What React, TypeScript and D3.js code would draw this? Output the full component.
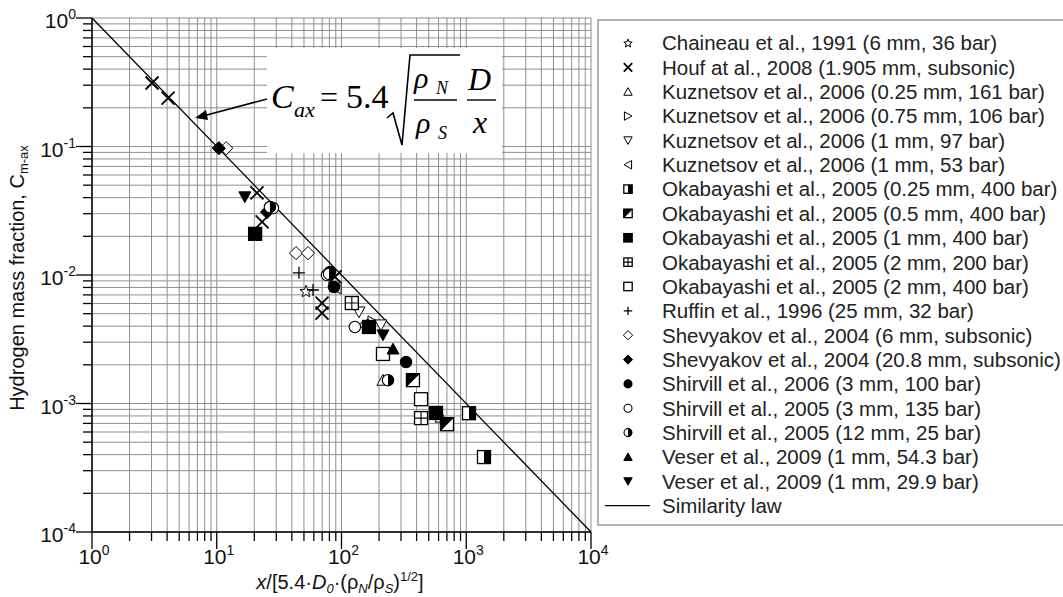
import { useEffect, useRef } from 'react';
import * as d3 from 'd3';

// series: [x, C] pairs
const chaineau: [number, number][] = [[51.9, 0.0075]];
const houf: [number, number][] = [
	[3.03, 0.312], [4.07, 0.238], [21.0, 0.0435], [23.1, 0.0259],
	[88.7, 0.00965], [69.8, 0.00605], [69.8, 0.00506],
];
const kuz025: [number, number][] = [[215, 0.00152], [628, 0.000785]];
const kuz075: [number, number][] = [[179, 0.00431]];
const kuz097: [number, number][] = [[138, 0.00515], [207, 0.00408]];
const kuz053: [number, number][] = [[149, 0.00408], [90.3, 0.00792]];
const oka025: [number, number][] = [[1052, 0.00084], [1387, 0.000383]];
const oka05: [number, number][] = [[374, 0.00152], [701, 0.00069]];
const oka1: [number, number][] = [[20.3, 0.0209], [166, 0.00394], [572, 0.000844]];
const oka2a: [number, number][] = [[121, 0.00605], [434, 0.00077]];
const oka2b: [number, number][] = [[215, 0.00243], [434, 0.00108]];
const ruffin: [number, number][] = [[45.6, 0.0104], [59.1, 0.00764]];
const shev6: [number, number][] = [[11.9, 0.097], [43.2, 0.0148], [53.9, 0.0148]];
const shev208: [number, number][] = [[10.4, 0.097], [25.3, 0.0309]];
const shir06: [number, number][] = [[329, 0.0021], [80.9, 0.01055], [87.1, 0.00807]];
const shir05: [number, number][] = [[128, 0.00394], [76.5, 0.01], [28.2, 0.0332]];
const shir12: [number, number][] = [[236, 0.00152], [79.4, 0.0102], [26.7, 0.0338]];
const veser54: [number, number][] = [[259, 0.00266]];
const veser29: [number, number][] = [[16.8, 0.0405], [215, 0.00341]];

const seriesLabels = [
	'Chaineau et al., 1991 (6 mm, 36 bar)',
	'Houf at al., 2008 (1.905 mm, subsonic)',
	'Kuznetsov et al., 2006 (0.25 mm, 161 bar)',
	'Kuznetsov et al., 2006 (0.75 mm, 106 bar)',
	'Kuznetsov et al., 2006 (1 mm, 97 bar)',
	'Kuznetsov et al., 2006 (1 mm, 53 bar)',
	'Okabayashi et al., 2005 (0.25 mm, 400 bar)',
	'Okabayashi et al., 2005 (0.5 mm, 400 bar)',
	'Okabayashi et al., 2005 (1 mm, 400 bar)',
	'Okabayashi et al., 2005 (2 mm, 200 bar)',
	'Okabayashi et al., 2005 (2 mm, 400 bar)',
	'Ruffin et al., 1996 (25 mm, 32 bar)',
	'Shevyakov et al., 2004 (6 mm, subsonic)',
	'Shevyakov et al., 2004 (20.8 mm, subsonic)',
	'Shirvill et al., 2006 (3 mm, 100 bar)',
	'Shirvill et al., 2005 (3 mm, 135 bar)',
	'Shirvill et al., 2005 (12 mm, 25 bar)',
	'Veser et al., 2009 (1 mm, 54.3 bar)',
	'Veser et al., 2009 (1 mm, 29.9 bar)',
];
const seriesMarkers = [
	'star', 'x', 'triUp', 'triRight', 'triDown', 'triLeft',
	'sqHalfV', 'sqHalfD', 'sqFill', 'sqGrid', 'sqOpen', 'plus',
	'diaOpen', 'diaFill', 'cirFill', 'cirOpen', 'cirHalf', 'triUpFill', 'triDownFill',
];
const seriesData = [
	chaineau, houf, kuz025, kuz075, kuz097, kuz053, oka025, oka05, oka1,
	oka2a, oka2b, ruffin, shev6, shev208, shir06, shir05, shir12, veser54, veser29,
];
const lawLabel = 'Similarity law';
const lawX = [1, 10000];

const xDecades = [0, 1, 2, 3, 4];
const yDecades = [0, -1, -2, -3, -4];

type G = d3.Selection<SVGGElement, unknown, null, undefined>;

function marker(g: G, type: string, cx: number, cy: number, s: number) {
	const k = '#000';
	const poly = (pts: number[][], fill: string) =>
		g.append('polygon')
			.attr('points', pts.map((p) => `${cx + p[0] * s},${cy + p[1] * s}`).join(' '))
			.attr('fill', fill).attr('stroke', k).attr('stroke-width', 1);
	const sq = (fill: string) =>
		g.append('rect').attr('x', cx - s).attr('y', cy - s).attr('width', 2 * s).attr('height', 2 * s)
			.attr('fill', fill).attr('stroke', k).attr('stroke-width', 1.3);
	switch (type) {
		case 'star': {
			const pts: number[][] = [];
			for (let i = 0; i < 10; i++) {
				const r = i % 2 === 0 ? 1.05 : 0.45;
				const a = -Math.PI / 2 + (i * Math.PI) / 5;
				pts.push([r * Math.cos(a), r * Math.sin(a) + 0.1]);
			}
			poly(pts, '#fff');
			break;
		}
		case 'x':
			g.append('path')
				.attr('d', `M${cx - s},${cy - s}L${cx + s},${cy + s}M${cx - s},${cy + s}L${cx + s},${cy - s}`)
				.attr('stroke', k).attr('stroke-width', 1.8).attr('fill', 'none');
			break;
		case 'plus':
			g.append('path')
				.attr('d', `M${cx - s},${cy}L${cx + s},${cy}M${cx},${cy - s}L${cx},${cy + s}`)
				.attr('stroke', k).attr('stroke-width', 1.3).attr('fill', 'none');
			break;
		case 'triUp': poly([[-1, 0.85], [1, 0.85], [0, -0.95]], '#fff'); break;
		case 'triDown': poly([[-1, -0.85], [1, -0.85], [0, 0.95]], '#fff'); break;
		case 'triRight': poly([[-0.85, -1], [-0.85, 1], [0.95, 0]], '#fff'); break;
		case 'triLeft': poly([[0.85, -1], [0.85, 1], [-0.95, 0]], '#fff'); break;
		case 'triUpFill': poly([[-1, 0.85], [1, 0.85], [0, -0.95]], k); break;
		case 'triDownFill': poly([[-1, -0.85], [1, -0.85], [0, 0.95]], k); break;
		case 'sqOpen': sq('#fff'); break;
		case 'sqFill': sq(k); break;
		case 'sqHalfV':
			sq('#fff');
			g.append('rect').attr('x', cx).attr('y', cy - s).attr('width', s).attr('height', 2 * s).attr('fill', k);
			break;
		case 'sqHalfD':
			sq('#fff');
			poly([[-1, -1], [1, -1], [-1, 1]], k);
			break;
		case 'sqGrid':
			sq('#fff');
			g.append('path')
				.attr('d', `M${cx - s},${cy}L${cx + s},${cy}M${cx},${cy - s}L${cx},${cy + s}`)
				.attr('stroke', k).attr('stroke-width', 1.1);
			break;
		case 'diaOpen': poly([[0, -1.1], [1.1, 0], [0, 1.1], [-1.1, 0]], '#fff'); break;
		case 'diaFill': poly([[0, -1.1], [1.1, 0], [0, 1.1], [-1.1, 0]], k); break;
		case 'cirOpen':
		case 'cirFill':
			g.append('circle').attr('cx', cx).attr('cy', cy).attr('r', s * 0.95)
				.attr('fill', type === 'cirFill' ? k : '#fff').attr('stroke', k).attr('stroke-width', 1.1);
			break;
		case 'cirHalf': {
			const r = s * 0.95;
			g.append('circle').attr('cx', cx).attr('cy', cy).attr('r', r)
				.attr('fill', '#fff').attr('stroke', k).attr('stroke-width', 1.1);
			g.append('path').attr('d', `M${cx},${cy - r}A${r},${r} 0 0 1 ${cx},${cy + r}Z`).attr('fill', k);
			break;
		}
	}
}

const App: React.FC = () => {
	const ref = useRef<SVGSVGElement>(null);

	useEffect(() => {
		if (!ref.current) return;
		const svg = d3.select(ref.current);
		svg.selectAll('*').remove();

		const left = 92, right = 591, top = 18, bottom = 532;
		const x = d3.scaleLog().domain([1, 1e4]).range([left, right]);
		const y = d3.scaleLog().domain([1e-4, 1]).range([bottom, top]);
		const sans = '"Liberation Sans", Arial, sans-serif';
		const serif = '"Liberation Serif", "Times New Roman", serif';
		const gridColor = '#8f8f8f';

		const g = svg.append('g') as unknown as G;

		// grid lines, decades and 2..9 in between
		const xTicks: number[] = [];
		xDecades.forEach((d) => {
			for (let m = 1; m <= 9; m++) if (d < 4 || m === 1) xTicks.push(m * Math.pow(10, d));
		});
		const yTicks: number[] = [];
		yDecades.forEach((d) => {
			for (let m = 1; m <= 9; m++) if (d < 0 || m === 1) yTicks.push(m * Math.pow(10, d));
		});

		g.selectAll('.gx').data(xTicks).enter().append('line')
			.attr('x1', (d) => x(d)).attr('x2', (d) => x(d)).attr('y1', top).attr('y2', bottom)
			.attr('stroke', gridColor).attr('stroke-width', 1);
		g.selectAll('.gy').data(yTicks).enter().append('line')
			.attr('y1', (d) => y(d)).attr('y2', (d) => y(d)).attr('x1', left).attr('x2', right)
			.attr('stroke', gridColor).attr('stroke-width', 1);

		// ticks
		const isMajor = (v: number) => Math.abs(Math.log10(v) - Math.round(Math.log10(v))) < 1e-9;
		g.selectAll('.tx').data(xTicks).enter().append('line')
			.attr('x1', (d) => x(d)).attr('x2', (d) => x(d)).attr('y1', bottom)
			.attr('y2', (d) => bottom + (isMajor(d) ? 17 : 9))
			.attr('stroke', '#000').attr('stroke-width', 1.3);
		g.selectAll('.ty').data(yTicks).enter().append('line')
			.attr('y1', (d) => y(d)).attr('y2', (d) => y(d)).attr('x1', left)
			.attr('x2', (d) => left - (isMajor(d) ? 16 : 9))
			.attr('stroke', '#000').attr('stroke-width', 1.3);

		// axis lines
		g.append('line').attr('x1', left).attr('x2', right).attr('y1', bottom).attr('y2', bottom)
			.attr('stroke', '#000').attr('stroke-width', 1.5);
		g.append('line').attr('x1', left).attr('x2', left).attr('y1', top).attr('y2', bottom)
			.attr('stroke', '#000').attr('stroke-width', 1.5);

		// tick labels
		xDecades.forEach((d) => {
			const t = g.append('text').attr('x', x(Math.pow(10, d)) + 2).attr('y', 564)
				.attr('text-anchor', 'middle').attr('font-family', sans).attr('font-size', 21).attr('fill', '#111');
			t.append('tspan').text('10');
			t.append('tspan').attr('dy', -9).attr('font-size', 14).text(String(d));
		});
		yDecades.forEach((d) => {
			const t = g.append('text').attr('x', 76).attr('y', y(Math.pow(10, d)) + 10)
				.attr('text-anchor', 'end').attr('font-family', sans).attr('font-size', 21).attr('fill', '#111');
			t.append('tspan').text('10');
			t.append('tspan').attr('dy', -9).attr('font-size', 14).text(String(d));
		});

		// axis titles
		const xt = g.append('text').attr('x', 340).attr('y', 589).attr('text-anchor', 'middle')
			.attr('font-family', sans).attr('font-size', 20).attr('fill', '#111');
		xt.append('tspan').attr('font-style', 'italic').text('x');
		xt.append('tspan').text('/[5.4·');
		xt.append('tspan').attr('font-style', 'italic').text('D');
		xt.append('tspan').attr('font-style', 'italic').attr('font-size', 13).attr('dy', 4).text('0');
		xt.append('tspan').attr('dy', -4).text('·(ρ');
		xt.append('tspan').attr('font-style', 'italic').attr('font-size', 13).attr('dy', 4).text('N');
		xt.append('tspan').attr('dy', -4).text('/ρ');
		xt.append('tspan').attr('font-style', 'italic').attr('font-size', 13).attr('dy', 4).text('S');
		xt.append('tspan').attr('dy', -4).text(')');
		xt.append('tspan').attr('font-size', 13).attr('dy', -8).text('1/2');
		xt.append('tspan').attr('dy', 8).text(']');

		const yt = g.append('text').attr('transform', 'translate(24,278) rotate(-90)').attr('text-anchor', 'middle')
			.attr('font-family', sans).attr('font-size', 20).attr('fill', '#111');
		yt.append('tspan').text('Hydrogen mass fraction, C');
		yt.append('tspan').attr('font-size', 13).attr('dy', 4).text('m-ax');

		// similarity law C = 1/X
		const law = d3.line<number>().x((d) => x(d)).y((d) => y(1 / d));
		g.append('path').attr('d', law(lawX) ?? '').attr('stroke', '#000').attr('stroke-width', 1.3).attr('fill', 'none');

		// data markers
		seriesData.forEach((pts, i) => {
			pts.forEach((p) => {
				const tp = seriesMarkers[i];
				const s = tp === 'x' ? 6.5 : tp.startsWith('sq') ? 6.5 : 6;
				marker(g, tp, x(p[0]), y(p[1]), s);
			});
		});

		// formula box + arrow
		g.append('rect').attr('x', 267).attr('y', 48).attr('width', 235).attr('height', 105).attr('fill', '#fff');
		g.append('line').attr('x1', 267).attr('y1', 99).attr('x2', 203).attr('y2', 116)
			.attr('stroke', '#000').attr('stroke-width', 1.6);
		g.append('polygon').attr('points', '195,118 206,110 208,120').attr('fill', '#000');

		const f = (tx: string, px: number, py: number, size: number, italic = true) =>
			g.append('text').attr('x', px).attr('y', py).attr('font-family', serif).attr('font-size', size)
				.attr('font-style', italic ? 'italic' : 'normal').attr('fill', '#000').text(tx);
		f('C', 271, 108, 34);
		f('ax', 294, 117, 22);
		f('=', 320, 108, 32, false);
		f('5.4', 346, 108, 34, false);
		g.append('path').attr('d', 'M387,118 L393,113 L402,145 L410,55 L460,55')
			.attr('fill', 'none').attr('stroke', '#000').attr('stroke-width', 1.6);
		f('ρ', 414, 88, 30);
		f('N', 436, 94, 18);
		g.append('line').attr('x1', 414).attr('x2', 457).attr('y1', 100).attr('y2', 100).attr('stroke', '#000').attr('stroke-width', 1.4);
		f('ρ', 416, 133, 30);
		f('S', 438, 139, 18);
		f('D', 468, 90, 32);
		g.append('line').attr('x1', 467).attr('x2', 496).attr('y1', 100).attr('y2', 100).attr('stroke', '#000').attr('stroke-width', 1.4);
		f('x', 473, 133, 32);

		// legend
		const lg = svg.append('g') as unknown as G;
		lg.append('rect').attr('x', 598).attr('y', 20).attr('width', 480).attr('height', 505)
			.attr('fill', '#fff').attr('stroke', '#999').attr('stroke-width', 1.5);
		const rowY = (i: number) => 43 + i * 24.35;
		seriesLabels.forEach((lab, i) => {
			marker(lg, seriesMarkers[i], 628, rowY(i), 4.2);
			lg.append('text').attr('x', 662).attr('y', rowY(i)).attr('dy', '0.36em')
				.attr('font-family', sans).attr('font-size', 20.5).attr('fill', '#222').text(lab);
		});
		const ly = rowY(seriesLabels.length);
		lg.append('line').attr('x1', 605).attr('x2', 650).attr('y1', ly).attr('y2', ly).attr('stroke', '#000').attr('stroke-width', 1.3);
		lg.append('text').attr('x', 662).attr('y', ly).attr('dy', '0.36em')
			.attr('font-family', sans).attr('font-size', 20.5).attr('fill', '#222').text(lawLabel);
	}, []);

	return (
		<div style={{ position: 'absolute', left: 0, top: 0 }}>
			<svg ref={ref} width={1063} height={597} style={{ display: 'block', background: '#fff' }}></svg>
		</div>
	);
};

export default App;
